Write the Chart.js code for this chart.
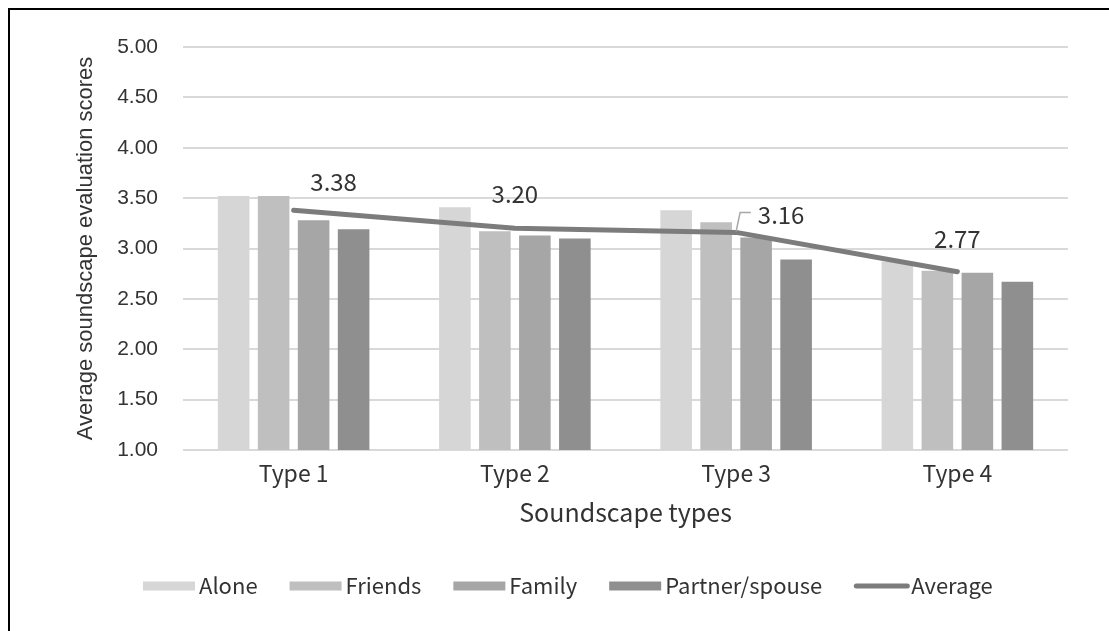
<!DOCTYPE html>
<html>
<head>
<meta charset="utf-8">
<title>Average soundscape evaluation scores by soundscape type</title>
<script src="https://cdn.jsdelivr.net/npm/chart.js@4/dist/chart.umd.min.js"></script>
<style>
  html, body { margin: 0; padding: 0; background: #ffffff; }
  #wrap { position: relative; width: 1109px; height: 631px; }
</style>
</head>
<body>
<div id="wrap"><canvas id="chart"></canvas></div>
<script>
// Soundscape types on the category axis
const categories = ['Type 1', 'Type 2', 'Type 3', 'Type 4'];

// Mean evaluation score per companion group
const alone   = [3.52, 3.41, 3.38, 2.87];
const friends = [3.52, 3.17, 3.26, 2.78];
const family  = [3.28, 3.13, 3.11, 2.76];
const partner = [3.19, 3.10, 2.89, 2.67];
const average = [3.38, 3.20, 3.16, 2.77];

// Value axis ticks
const yTicks = [1.00, 1.50, 2.00, 2.50, 3.00, 3.50, 4.00, 4.50, 5.00];

const seriesNames = ['Alone', 'Friends', 'Family', 'Partner/spouse', 'Average'];

const COLORS = {
  alone: '#d6d6d6',
  friends: '#bfbfbf',
  family: '#a6a6a6',
  partner: '#8f8f8f',
  line: '#7c7c7c',
  grid: '#d9d9d9',
  text: '#333333'
};

const LATIN = '"Noto Sans CJK SC", "Noto Sans", sans-serif';
const ARIAL = '"Liberation Sans", Arial, sans-serif';

// Where each value label of the average line sits relative to its point
const labelShift = [
  { dx: 40, dy: -29 },
  { dx: 0, dy: -35 },
  { dx: 45, dy: -19, leader: true },
  { dx: 0, dy: -34 }
];

// Value labels on the average line
const averageLabels = {
  id: 'averageLabels',
  afterDatasetsDraw(chart) {
    const idx = chart.data.datasets.findIndex(d => d.type === 'line');
    const meta = chart.getDatasetMeta(idx);
    const values = chart.data.datasets[idx].data;
    const ctx = chart.ctx;
    ctx.save();
    ctx.font = '24px ' + LATIN;
    ctx.fillStyle = COLORS.text;
    ctx.textAlign = 'center';
    ctx.textBaseline = 'middle';
    meta.data.forEach((pt, i) => {
      const s = labelShift[i];
      const tx = pt.x + s.dx;
      const ty = pt.y + s.dy;
      ctx.fillText(values[i].toFixed(2), tx, ty + 1);
      if (s.leader) {
        const w = ctx.measureText(values[i].toFixed(2)).width;
        const lx = tx - w / 2 - 7;
        ctx.beginPath();
        ctx.strokeStyle = '#a6a6a6';
        ctx.lineWidth = 1.5;
        ctx.moveTo(pt.x, pt.y - 1);
        ctx.lineTo(pt.x + 4, ty - 1);
        ctx.lineTo(lx, ty - 1);
        ctx.stroke();
      }
    });
    ctx.restore();
  }
};

// Legend row along the bottom and the frame line
const legendRow = {
  id: 'legendRow',
  afterDraw(chart) {
    const ctx = chart.ctx;
    ctx.save();
    ctx.font = '22px ' + LATIN;
    ctx.fillStyle = COLORS.text;
    ctx.textBaseline = 'middle';
    ctx.textAlign = 'left';
    const cy = 586;
    let x = 143;
    chart.data.datasets.forEach(ds => {
      if (ds.type === 'line') {
        ctx.beginPath();
        ctx.strokeStyle = ds.borderColor;
        ctx.lineWidth = 5;
        ctx.lineCap = 'round';
        ctx.moveTo(x + 2, cy);
        ctx.lineTo(x + 53, cy);
        ctx.stroke();
        x += 57;
      } else {
        ctx.fillStyle = ds.backgroundColor;
        ctx.fillRect(x, cy - 4.5, 52, 9);
        x += 56;
      }
      ctx.fillStyle = COLORS.text;
      ctx.fillText(ds.label, x, cy);
      x += ctx.measureText(ds.label).width + 32;
    });
    // frame
    ctx.beginPath();
    ctx.strokeStyle = '#000000';
    ctx.lineWidth = 2;
    ctx.moveTo(9, 631);
    ctx.lineTo(9, 9);
    ctx.lineTo(1109, 9);
    ctx.stroke();
    ctx.restore();
  }
};

const barStyle = {
  type: 'bar',
  order: 1,
  categoryPercentage: 0.723,
  barPercentage: 0.79,
  borderWidth: 0
};

new Chart(document.getElementById('chart'), {
  data: {
    labels: categories,
    datasets: [
      { ...barStyle, label: seriesNames[0], data: alone, backgroundColor: COLORS.alone },
      { ...barStyle, label: seriesNames[1], data: friends, backgroundColor: COLORS.friends },
      { ...barStyle, label: seriesNames[2], data: family, backgroundColor: COLORS.family },
      { ...barStyle, label: seriesNames[3], data: partner, backgroundColor: COLORS.partner },
      {
        type: 'line',
        order: 0,
        label: seriesNames[4],
        data: average,
        borderColor: COLORS.line,
        backgroundColor: COLORS.line,
        borderWidth: 5,
        borderCapStyle: 'round',
        borderJoinStyle: 'round',
        pointRadius: 0,
        tension: 0
      }
    ]
  },
  options: {
    responsive: true,
    maintainAspectRatio: false,
    animation: false,
    layout: { padding: { top: 47, right: 41, bottom: 0, left: 0 } },
    plugins: {
      legend: { display: false },
      tooltip: { enabled: false }
    },
    scales: {
      x: {
        grid: { display: false, drawTicks: false },
        border: { display: false },
        ticks: {
          font: { family: LATIN, size: 23 },
          color: COLORS.text,
          padding: 9
        },
        title: {
          display: true,
          text: 'Soundscape types',
          font: { family: LATIN, size: 25 },
          color: COLORS.text,
          padding: { top: 0, bottom: 104 }
        },
        afterFit(scale) { scale.height = 181; }
      },
      y: {
        min: 1,
        max: 5,
        afterBuildTicks(scale) { scale.ticks = yTicks.map(v => ({ value: v })); },
        grid: { color: COLORS.grid, lineWidth: 2, drawTicks: false },
        border: { display: false },
        ticks: {
          font: { family: ARIAL, size: 21 },
          color: COLORS.text,
          padding: 25,
          callback: v => Number(v).toFixed(2)
        },
        title: {
          display: true,
          text: 'Average soundscape evaluation scores',
          font: { family: ARIAL, size: 22 },
          color: COLORS.text,
          padding: { top: 73, bottom: 0 }
        },
        afterFit(scale) { scale.width = 183; }
      }
    }
  },
  plugins: [averageLabels, legendRow]
});
</script>
</body>
</html>
